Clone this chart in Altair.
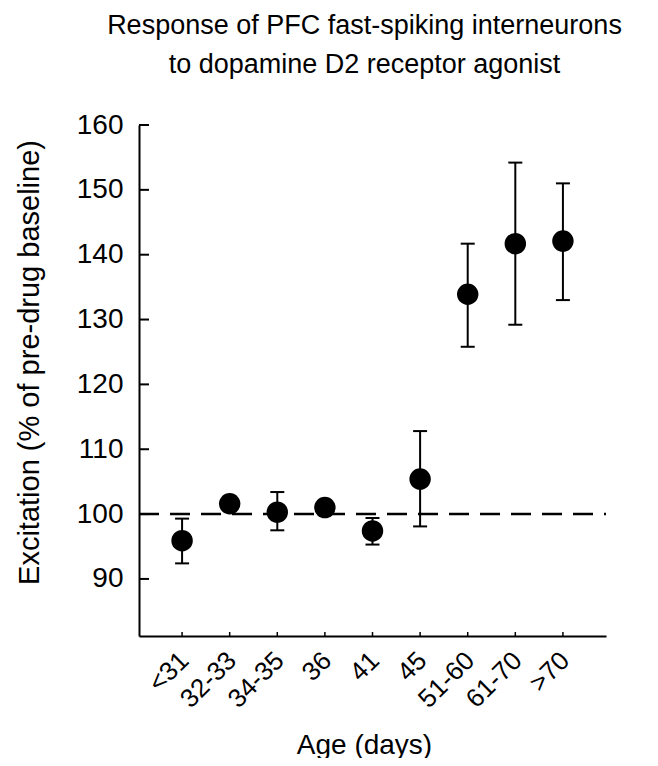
import altair as alt
import pandas as pd

categories = ["<31", "32-33", "34-35", "36", "41", "45", "51-60", "61-70", ">70"]
means = [95.9, 101.6, 100.3, 101.0, 97.4, 105.4, 133.9, 141.7, 142.1]
upper = [99.3, 102.7, 103.4, 102.1, 99.4, 112.8, 141.7, 154.2, 151.0]
lower = [92.4, 100.5, 97.5, 99.9, 95.3, 98.1, 125.8, 129.2, 133.0]
y_ticks = [90, 100, 110, 120, 130, 140, 150, 160]
baseline = [100]

df = pd.DataFrame({"age": categories, "mean": means, "hi": upper, "lo": lower})
ticks_df = pd.DataFrame({"v": y_ticks})
base_df = pd.DataFrame({"v": baseline})

W, H = 467, 511
FONT = "Liberation Sans"

xscale = alt.Scale(type="point", domain=categories, padding=0.905)
yscale = alt.Scale(domain=[81.2, 160], nice=False, zero=False)

x_enc = alt.X("age:N", scale=xscale, sort=categories,
              axis=alt.Axis(title="Age (days)", labelAngle=-45, labelAlign="right",
                            labelBaseline="middle", labelPadding=20, labelOffset=2,
                            labelFontSize=26, labelFont=FONT, labelColor="black",
                            ticks=False, tickSize=0, domainColor="black", domainWidth=2,
                            titleFont=FONT, titleFontSize=28, titleFontWeight="normal",
                            titleColor="black", titleX=225, titleY=117,
                            titleBaseline="alphabetic", titleAlign="center", grid=False))

y_axis = alt.Axis(title="Excitation (% of pre-drug baseline)", values=y_ticks,
                  labelFontSize=28, labelFont=FONT, labelColor="black", labelPadding=16,
                  labelBaseline="middle", ticks=False, tickSize=0,
                  domainColor="black", domainWidth=2,
                  titleFont=FONT, titleFontSize=29, titleFontWeight="normal",
                  titleColor="black", titleX=-110, titleY=237, titleAngle=270,
                  titleAlign="center", titleBaseline="middle", grid=False)

points = alt.Chart(df).mark_point(filled=True, color="black", opacity=1, size=460).encode(
    x=x_enc,
    y=alt.Y("mean:Q", scale=yscale, axis=y_axis),
)

bars = alt.Chart(df).mark_rule(color="black", strokeWidth=2).encode(
    x=alt.X("age:N", scale=xscale, sort=categories),
    y=alt.Y("lo:Q", scale=yscale),
    y2="hi:Q",
)

caps_hi = alt.Chart(df).mark_tick(color="black", thickness=2, size=14, opacity=1).encode(
    x=alt.X("age:N", scale=xscale, sort=categories),
    y=alt.Y("hi:Q", scale=yscale),
)
caps_lo = alt.Chart(df).mark_tick(color="black", thickness=2, size=14, opacity=1).encode(
    x=alt.X("age:N", scale=xscale, sort=categories),
    y=alt.Y("lo:Q", scale=yscale),
)

dashed = alt.Chart(base_df).mark_rule(color="black", strokeWidth=2.5, strokeDash=[20, 11]).encode(
    y=alt.Y("v:Q", scale=yscale),
    x=alt.value(0),
    x2=alt.value(W),
)

yticks = alt.Chart(ticks_df).mark_rule(color="black", strokeWidth=2).encode(
    y=alt.Y("v:Q", scale=yscale),
    x=alt.value(0),
    x2=alt.value(10),
)

xticks = alt.Chart(df).mark_rule(color="black", strokeWidth=1.5).encode(
    x=alt.X("age:N", scale=xscale, sort=categories),
    y=alt.value(H),
    y2=alt.value(H - 4),
)

chart = alt.layer(dashed, yticks, xticks, bars, caps_hi, caps_lo, points).properties(
    width=W,
    height=H,
    background="white",
    padding={"left": 131, "top": 117, "right": 44, "bottom": 122},
    autosize=alt.AutoSizeParams(type="none"),
    title=alt.TitleParams(
        text=["Response of PFC fast-spiking interneurons", "to dopamine D2 receptor agonist"],
        font=FONT, fontSize=27, fontWeight="normal", color="black",
        anchor="middle", frame="group", dx=-8, offset=32, lineHeight=39,
    ),
).configure_view(stroke=None)

chart.save("out.html", embed_options={"renderer": "svg", "actions": False})
